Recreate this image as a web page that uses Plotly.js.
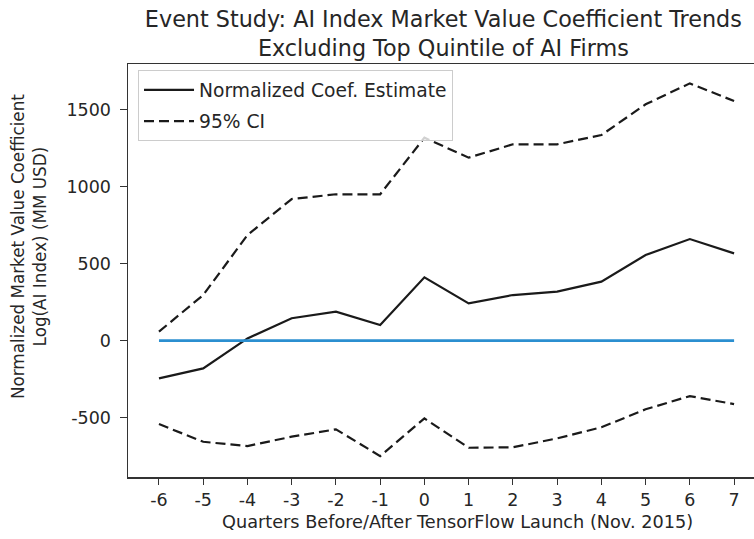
<!DOCTYPE html>
<html>
<head>
<meta charset="utf-8">
<script src="https://cdn.plot.ly/plotly-3.0.1.min.js"></script>
<style>html,body{margin:0;padding:0;background:#fff;}#chart{width:754px;height:539px;}</style>
</head>
<body>
<div id="chart"></div>
<script>
const quarters = [-6, -5, -4, -3, -2, -1, 0, 1, 2, 3, 4, 5, 6, 7];
const coefEstimate = [-245, -180, 15, 146, 189, 102, 412, 243, 297, 319, 384, 557, 661, 568];
const ciUpper = [59, 297, 687, 921, 952, 952, 1320, 1190, 1277, 1277, 1337, 1537, 1673, 1558];
const ciLower = [-542, -657, -685, -624, -576, -750, -505, -696, -693, -635, -563, -446, -360, -412];
const zeroLine = [0, 0, 0, 0, 0, 0, 0, 0, 0, 0, 0, 0, 0, 0];
const yTicks = [-500, 0, 500, 1000, 1500];

const titleText = "Event Study: AI Index Market Value Coefficient Trends<br>Excluding Top Quintile of AI Firms";
const xTitleText = "Quarters Before/After TensorFlow Launch (Nov. 2015)";
const yTitleText = "Normalized Market Value Coefficient<br>Log(AI Index) (MM USD)";

const font = "DejaVu Sans, sans-serif";
const txt = "#262626";

const traces = [
  {x: quarters, y: coefEstimate, mode: "lines", name: "Normalized Coef. Estimate", legendgroup: "a",
   line: {color: "#1a1a1a", width: 2.2}},
  {x: quarters, y: ciUpper, mode: "lines", name: "95% CI", legendgroup: "b",
   line: {color: "#1a1a1a", width: 2.2, dash: "10px,5px"}},
  {x: quarters, y: ciLower, mode: "lines", name: "95% CI lower", showlegend: false, legendgroup: "b",
   line: {color: "#1a1a1a", width: 2.2, dash: "10px,5px"}},
  {x: quarters, y: zeroLine, mode: "lines", showlegend: false,
   line: {color: "#2b8fd0", width: 2.8}}
];

const layout = {
  width: 754, height: 539,
  paper_bgcolor: "#fff", plot_bgcolor: "#fff",
  margin: {l: 128, r: 0, t: 64, b: 62},
  font: {family: font, color: txt, size: 17},
  title: {text: titleText,
          font: {family: font, size: 22.3, color: txt}, x: 0.588, xanchor: "center",
          yref: "container", y: 0.95, yanchor: "top"},
  showlegend: true,
  legend: {x: 0.016, y: 0.985, xanchor: "left", yanchor: "top",
           bordercolor: "#cccccc", borderwidth: 1, bgcolor: "rgba(255,255,255,0.8)",
           font: {family: font, size: 18.7, color: txt}, tracegroupgap: 4, itemwidth: 50},
  xaxis: {range: [-6.70, 7.45], tickvals: quarters, ticktext: quarters.map(String),
          showgrid: false, zeroline: false, showline: true, mirror: true, linecolor: "#333", linewidth: 1.5,
          ticks: "outside", ticklen: 6, tickcolor: "#333",
          tickfont: {family: font, size: 17.5, color: txt}},
  yaxis: {range: [-886, 1799], tickvals: yTicks, ticktext: yTicks.map(String),
          showgrid: false, zeroline: false, showline: true, linecolor: "#333", linewidth: 1.5,
          ticks: "outside", ticklen: 7, tickcolor: "#333", ticklabelstandoff: 5,
          tickfont: {family: font, size: 17.5, color: txt}},
  annotations: [
    {text: xTitleText, xref: "paper", yref: "paper", x: 0.527, y: -0.109,
     xanchor: "center", yanchor: "middle", showarrow: false,
     font: {family: font, size: 17.7, color: txt}},
    {text: yTitleText, xref: "paper", yref: "paper", x: -0.158, y: 0.557, textangle: -90,
     xanchor: "center", yanchor: "middle", showarrow: false,
     font: {family: font, size: 16.8, color: txt}}
  ]
};

Plotly.newPlot("chart", traces, layout, {displayModeBar: false, staticPlot: true});
</script>
</body>
</html>
